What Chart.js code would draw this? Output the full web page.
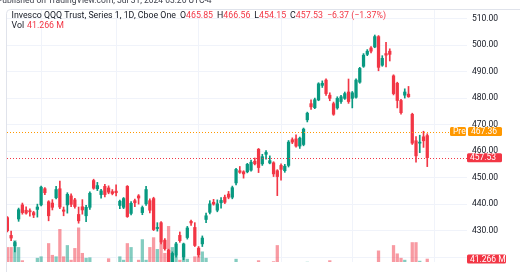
<!DOCTYPE html>
<html>
<head>
<meta charset="utf-8">
<script src="https://cdn.jsdelivr.net/npm/chart.js@4.4.1/dist/chart.umd.min.js"></script>
<style>
  html, body { margin: 0; padding: 0; background: #fff; }
  #chart { display: block; }
</style>
</head>
<body>
<canvas id="chart" width="520" height="272"></canvas>
<script>
// trading days, Feb 16 - Jul 30 2024, plus the empty days to the right of the last bar
const febDays = [16, 20, 21, 22, 23, 26, 27, 28, 29];
const marDays = [1, 4, 5, 6, 7, 8, 11, 12, 13, 14, 15, 18, 19, 20, 21, 22, 25, 26, 27, 28];
const aprDays = [1, 2, 3, 4, 5, 8, 9, 10, 11, 12, 15, 16, 17, 18, 19, 22, 23, 24, 25, 26, 29, 30];
const mayDays = [1, 2, 3, 6, 7, 8, 9, 10, 13, 14, 15, 16, 17, 20, 21, 22, 23, 24, 28, 29, 30, 31];
const junDays = [3, 4, 5, 6, 7, 10, 11, 12, 13, 14, 17, 18, 20, 21, 24, 25, 26, 27, 28];
const julDays = [1, 2, 3, 5, 8, 9, 10, 11, 12, 15, 16, 17, 18, 19, 22, 23, 24, 25, 26, 29, 30, 31];
const augDays = [1, 2, 5, 6, 7, 8, 9, 12];

const opens = [
  434.9, 428.2, 424.3, 434.4, 439.7, 437.7, 437.5, 436.8, 438.0, 439.7,
  445.8, 440.9, 440.4, 442.4, 445.8, 437.8, 439.7, 443.1, 441.6, 436.1,
  439.0, 435.6, 438.8, 448.9, 445.8, 443.6, 446.7, 446.1, 444.7, 444.9,
  439.5, 438.8, 446.7, 436.5, 441.3, 443.1, 436.8, 440.1, 441.3, 442.1,
  430.8, 433.0, 426.4, 422.6, 417.5, 420.8, 428.2, 420.1, 427.4, 433.5,
  431.2, 423.4, 425.0, 434.2, 436.9, 440.7, 437.7, 440.5, 442.6, 443.8,
  442.6, 448.0, 452.6, 452.2, 452.2, 452.8, 456.2, 460.7, 455.2, 458.8,
  455.5, 455.6, 452.6, 454.6, 452.6, 454.6, 464.3, 464.6, 461.9, 462.5,
  471.8, 477.9, 476.4, 479.3, 484.8, 486.8, 481.1, 477.9, 476.3, 478.7,
  479.9, 482.3, 479.9, 480.3, 486.0, 492.0, 496.5, 498.9, 499.3, 503.2,
  492.4, 496.8, 497.7, 488.4, 485.6, 479.1, 481.1, 481.5, 473.9, 463.9,
  463.0, 465.4, 465.85
];
const highs = [
  435.3, 429.8, 426.0, 438.5, 440.4, 439.0, 438.2, 437.3, 440.0, 446.8,
  446.2, 441.3, 441.7, 446.7, 448.7, 438.9, 444.3, 443.9, 442.2, 438.9,
  441.7, 439.5, 444.6, 449.4, 448.2, 445.6, 447.5, 446.9, 445.5, 447.3,
  441.5, 442.5, 447.0, 441.0, 441.9, 443.6, 439.3, 446.7, 442.0, 442.6,
  433.0, 433.4, 427.0, 423.0, 422.0, 425.6, 429.5, 425.3, 431.6, 434.0,
  433.0, 424.0, 428.0, 436.6, 441.3, 441.8, 441.6, 442.5, 443.4, 444.8,
  446.8, 453.5, 454.2, 452.6, 455.4, 456.6, 457.4, 461.0, 458.8, 460.2,
  458.2, 456.0, 453.0, 455.2, 455.0, 464.0, 465.0, 466.1, 465.3, 468.7,
  474.7, 479.3, 480.0, 485.8, 486.5, 487.3, 482.0, 478.5, 480.5, 481.0,
  482.3, 487.2, 482.5, 487.3, 491.6, 496.8, 498.3, 499.4, 503.8, 503.6,
  496.0, 501.0, 498.6, 488.8, 486.0, 479.5, 483.5, 484.4, 474.3, 465.5,
  466.0, 467.5, 466.56
];
const lows = [
  429.5, 426.2, 422.0, 433.5, 436.2, 436.2, 435.5, 434.9, 435.1, 439.3,
  443.6, 433.7, 437.8, 442.0, 438.3, 435.6, 436.6, 439.0, 438.5, 432.8,
  436.2, 433.4, 438.0, 445.6, 445.1, 442.2, 442.7, 443.9, 443.5, 443.1,
  438.3, 438.3, 435.0, 435.9, 439.0, 440.0, 436.0, 439.5, 436.7, 430.0,
  429.8, 425.0, 422.6, 413.5, 416.8, 420.0, 425.6, 419.0, 426.8, 432.0,
  424.0, 420.0, 424.0, 433.0, 436.3, 439.6, 437.1, 438.5, 440.2, 442.0,
  442.0, 447.2, 451.6, 449.8, 451.8, 452.4, 454.8, 451.9, 454.6, 457.0,
  455.2, 450.4, 443.2, 449.0, 452.0, 454.0, 462.8, 461.5, 461.0, 462.0,
  471.0, 475.7, 476.0, 479.0, 484.0, 481.0, 479.0, 473.5, 475.8, 478.0,
  479.5, 478.0, 476.3, 480.0, 485.6, 491.6, 496.0, 497.0, 499.0, 490.3,
  492.0, 491.8, 494.0, 481.2, 476.3, 473.9, 480.0, 480.3, 462.5, 455.8,
  459.4, 461.4, 454.15
];
const closes = [
  430.0, 427.2, 425.5, 437.9, 436.8, 436.6, 437.1, 435.9, 438.9, 446.4,
  444.3, 435.6, 438.8, 445.5, 438.9, 437.3, 443.7, 439.9, 439.1, 433.7,
  437.8, 438.8, 444.1, 446.0, 447.0, 445.0, 443.6, 444.5, 444.0, 444.3,
  441.1, 442.1, 435.3, 440.3, 440.5, 442.3, 438.7, 445.5, 437.7, 430.4,
  431.2, 425.6, 423.2, 416.5, 421.4, 425.0, 426.2, 424.8, 431.0, 432.9,
  424.4, 420.8, 427.2, 435.6, 440.1, 440.0, 440.1, 441.4, 440.7, 442.6,
  446.2, 453.1, 452.0, 451.4, 455.0, 455.8, 455.2, 453.8, 457.9, 459.5,
  456.4, 451.4, 450.4, 453.1, 454.3, 463.4, 463.4, 461.9, 464.9, 468.3,
  474.3, 476.7, 479.4, 485.4, 485.6, 481.7, 479.9, 473.9, 479.9, 480.5,
  481.7, 478.7, 482.0, 486.8, 491.2, 496.2, 497.7, 497.7, 503.2, 491.6,
  495.0, 496.2, 496.5, 481.7, 479.1, 474.5, 482.3, 480.5, 463.0, 458.2,
  463.4, 463.90, 457.53
];
// volume, millions of shares
const volumes = [
  65, 65, 79, 65, 38, 30, 27, 33, 43, 46,
  31, 73, 49, 46, 102, 46, 69, 39, 63, 105,
  53, 43, 44, 29, 32, 26, 34, 42, 30, 33,
  46, 39, 73, 65, 31, 39, 81, 39, 65, 85,
  61, 73, 53, 108, 65, 49, 39, 73, 41, 31,
  46, 46, 56, 43, 32, 28, 30, 27, 33, 29,
  31, 41, 29, 26, 30, 28, 34, 38, 30, 27,
  33, 36, 69, 34, 31, 33, 29, 30, 28, 32,
  35, 31, 29, 33, 30, 34, 38, 32, 30, 28,
  31, 33, 29, 30, 27, 31, 29, 32, 34, 58,
  33, 30, 31, 69, 52, 43, 39, 34, 75, 75,
  37, 34, 41.266
];
const priceTicks = [430, 440, 450, 460, 470, 480, 490, 500, 510];
const preMarket = 467.36;

const title = 'Invesco QQQ Trust, Series 1, 1D, Cboe One';
const published = 'Published on TradingView.com, Jul 31, 2024 03:26 UTC-4';

const dates = [];
[[2, febDays], [3, marDays], [4, aprDays], [5, mayDays], [6, junDays], [7, julDays], [8, augDays]]
  .forEach(([m, days]) => days.forEach(d => dates.push({ m, d })));
const monthStarts = dates.map((d, i) => i).filter(i => i > 0 && dates[i].m !== dates[i - 1].m);

const UP = '#089981';
const DOWN = '#f23645';
const UP_VOL = 'rgba(8,153,129,0.5)';
const DOWN_VOL = 'rgba(242,54,69,0.5)';
const PRE = '#ff9800';
const TEXT = '#131722';
const FONT = 'Roboto, "DejaVu Sans", sans-serif';

const isUp = closes.map((c, i) => c >= opens[i]);
const last = closes.length - 1;

const bodyData = opens.map((o, i) => ({ x: i, y: [o, closes[i]] }));
const wickData = lows.map((l, i) => ({ x: i, y: [l, highs[i]] }));
const volData = volumes.map((v, i) => ({ x: i, y: v }));

function tag(ctx, x, y, w, h, bg, text) {
  ctx.fillStyle = bg;
  ctx.beginPath();
  ctx.roundRect(x, y - h / 2, w, h, 1.5);
  ctx.fill();
  ctx.fillStyle = '#fff';
  ctx.textAlign = 'left';
  ctx.textBaseline = 'middle';
  ctx.fillText(text, x + 3, y + 0.5);
}

const overlay = {
  id: 'overlay',
  afterDraw(chart) {
    const { ctx, chartArea } = chart;
    const y = chart.scales.y;
    const yv = chart.scales.yv;
    ctx.save();

    // frame
    ctx.strokeStyle = '#e0e3eb';
    ctx.lineWidth = 1;
    ctx.beginPath();
    ctx.moveTo(6.5, 272);
    ctx.lineTo(6.5, 13.5);
    ctx.arcTo(6.5, 9.5, 10.5, 9.5, 4);
    ctx.lineTo(520, 9.5);
    ctx.stroke();

    // last price and pre-market lines
    const yClose = y.getPixelForValue(closes[last]);
    const yPre = y.getPixelForValue(preMarket);
    ctx.setLineDash([1, 2]);
    ctx.strokeStyle = DOWN;
    ctx.beginPath();
    ctx.moveTo(chartArea.left, Math.round(yClose) + 0.5);
    ctx.lineTo(chartArea.right, Math.round(yClose) + 0.5);
    ctx.stroke();
    ctx.strokeStyle = PRE;
    ctx.beginPath();
    ctx.moveTo(chartArea.left, Math.round(yPre) + 0.5);
    ctx.lineTo(450, Math.round(yPre) + 0.5);
    ctx.stroke();
    ctx.setLineDash([]);

    // axis tags
    ctx.font = '8.5px ' + FONT;
    tag(ctx, 450, yPre, 16, 9, PRE, 'Pre');
    tag(ctx, 468, yPre, 34, 9, PRE, preMarket.toFixed(2));
    tag(ctx, 467, yClose, 35, 9, DOWN, closes[last].toFixed(2));
    tag(ctx, 467, yv.getPixelForValue(volumes[last]), 39, 9, DOWN, volumes[last].toFixed(3) + ' M');

    // header line, cut by the top of the picture
    ctx.fillStyle = '#3c3f4a';
    ctx.textAlign = 'left';
    ctx.textBaseline = 'alphabetic';
    ctx.font = '8.5px ' + FONT;
    ctx.fillText(published, -3, 2.5);

    // legend
    const chg = closes[last] - closes[last - 1];
    const pct = chg / closes[last - 1] * 100;
    const valColor = isUp[last] ? UP : DOWN;
    ctx.font = '8.8px ' + FONT;
    ctx.textBaseline = 'middle';
    let x = 11.5;
    const put = (s, color, gap) => {
      ctx.fillStyle = color;
      ctx.fillText(s, x, 16);
      x += ctx.measureText(s).width + (gap || 0);
    };
    put(title, TEXT, 4);
    put('O', TEXT); put(opens[last].toFixed(2), valColor, 4);
    put('H', TEXT); put(highs[last].toFixed(2), valColor, 4);
    put('L', TEXT); put(lows[last].toFixed(2), valColor, 4);
    put('C', TEXT); put(closes[last].toFixed(2), valColor, 4);
    put(chg.toFixed(2).replace('-', '\u2212') + ' (' + pct.toFixed(2).replace('-', '\u2212') + '%)', valColor);

    ctx.fillStyle = TEXT;
    ctx.fillText('Vol', 11.5, 26);
    ctx.fillStyle = valColor;
    ctx.fillText(volumes[last].toFixed(3) + ' M', 27, 26);

    ctx.restore();
  }
};

new Chart(document.getElementById('chart'), {
  type: 'bar',
  data: {
    datasets: [
      {
        data: bodyData,
        backgroundColor: isUp.map(u => u ? UP : DOWN),
        barThickness: 2.6,
        minBarLength: 1,
        grouped: false,
        order: 1
      },
      {
        data: wickData,
        backgroundColor: isUp.map(u => u ? UP : DOWN),
        barThickness: 1,
        grouped: false,
        order: 2
      },
      {
        data: volData,
        yAxisID: 'yv',
        backgroundColor: isUp.map(u => u ? UP_VOL : DOWN_VOL),
        barThickness: 2.6,
        grouped: false,
        order: 3
      }
    ]
  },
  options: {
    responsive: false,
    devicePixelRatio: 1,
    animation: false,
    layout: { padding: { left: 7, top: 10, right: 0, bottom: 0 } },
    plugins: { legend: { display: false }, tooltip: { enabled: false } },
    scales: {
      x: {
        type: 'linear',
        min: -0.1,
        max: 122.6,
        offset: false,
        grid: { color: '#f0f3fa', drawTicks: false, offset: false },
        border: { display: false },
        ticks: { display: false },
        afterBuildTicks: s => { s.ticks = monthStarts.map(v => ({ value: v })); }
      },
      y: {
        position: 'right',
        min: 418.2,
        max: 513.2,
        grid: { color: '#f0f3fa', drawTicks: false },
        border: { display: false },
        ticks: {
          stepSize: 10,
          includeBounds: false,
          padding: 5,
          color: TEXT,
          font: { family: FONT, size: 8.5 },
          callback: v => priceTicks.includes(v) ? v.toFixed(2) : ''
        },
        afterFit: s => { s.width = 53; }
      },
      yv: {
        display: false,
        min: 35.4,
        max: 550
      }
    }
  },
  plugins: [overlay]
});
</script>
</body>
</html>
